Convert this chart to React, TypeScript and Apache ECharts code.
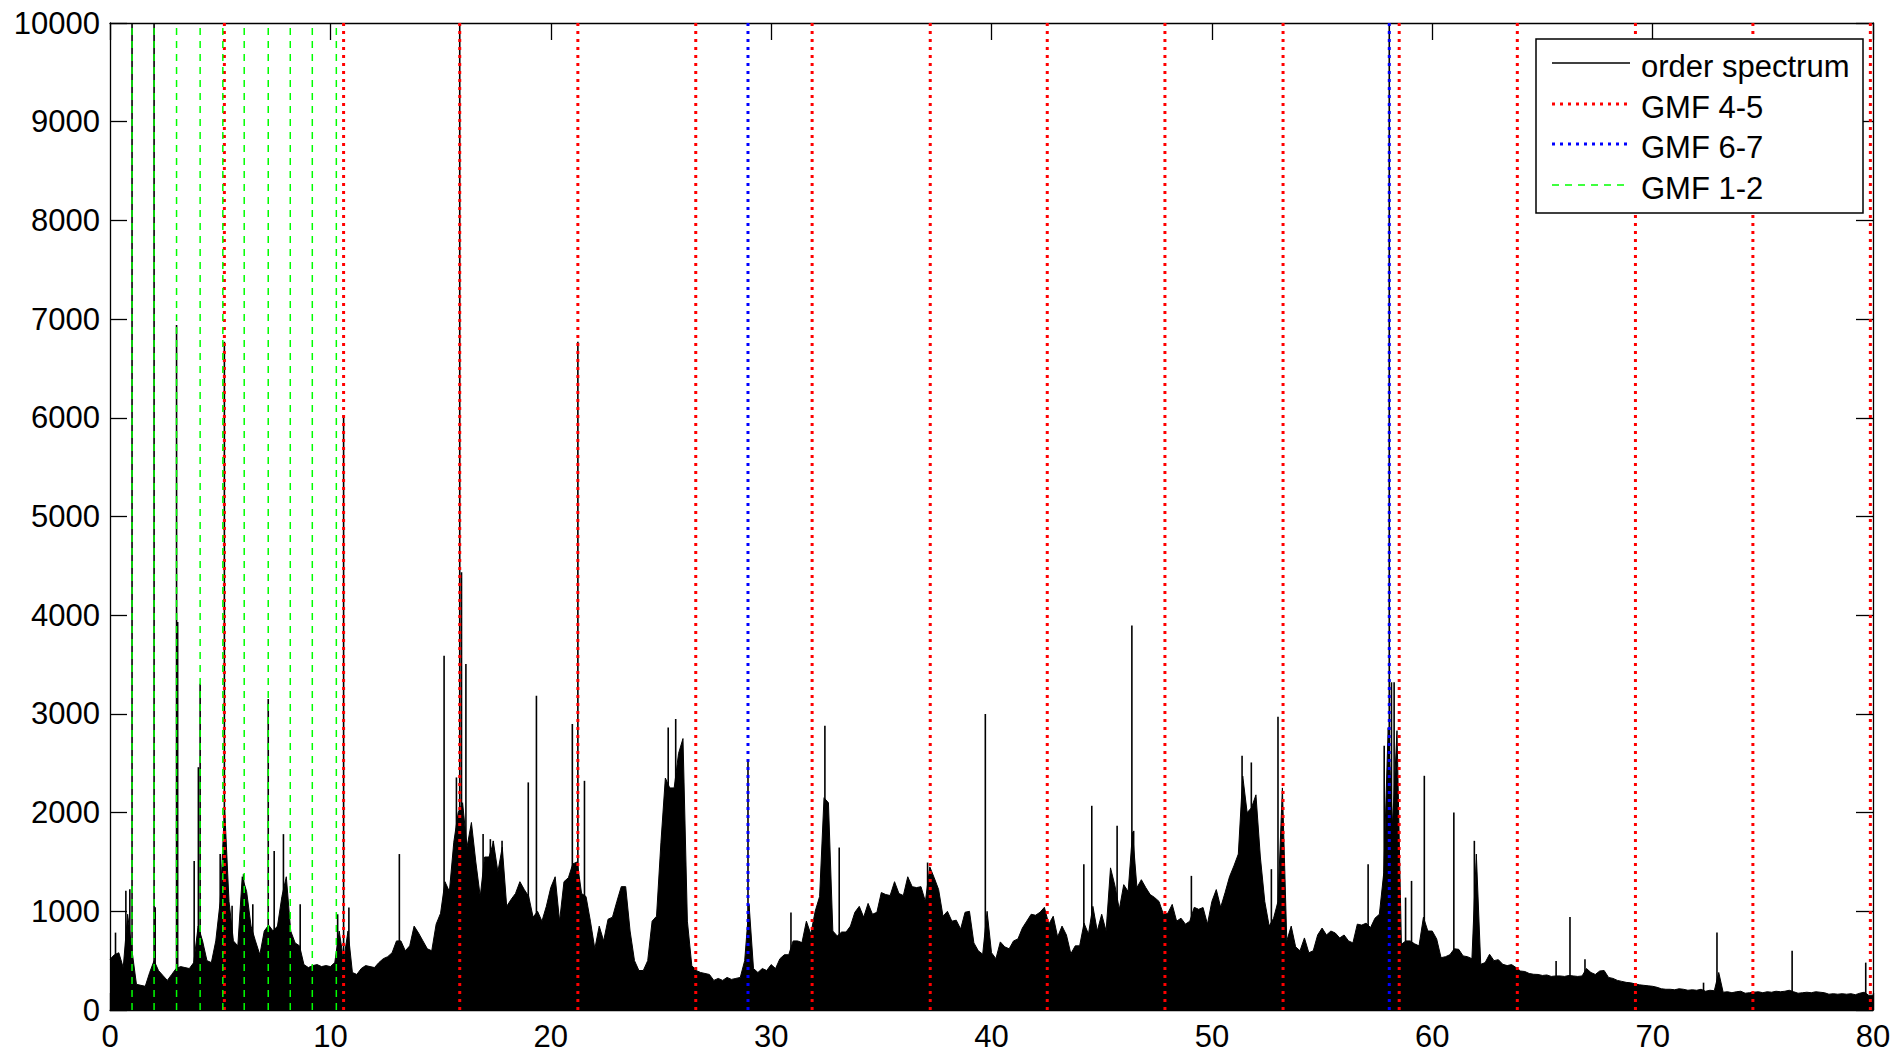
import React, { useEffect, useRef } from "react";
import * as echarts from "echarts";

// ---- data ----
const ORDER_STEP = 0.2; // spectrum envelope sampled every 0.2 order, from 0 to 80
const spectrumBase = [
  514, 560, 580, 430, 970,
  600, 260, 250, 240, 380,
  500, 400, 350, 300, 360,
  420, 440, 430, 420, 480,
  850, 700, 500, 480, 700,
  1100, 2050, 1100, 700, 650,
  1350, 1200, 850, 700, 560,
  800, 860, 800, 850, 1150,
  1350, 800, 680, 650, 460,
  430, 450, 460, 440, 450,
  440, 480, 800, 500, 800,
  380, 360, 420, 450, 440,
  430, 480, 520, 540, 580,
  700, 700, 600, 650, 850,
  780, 700, 620, 600, 870,
  980, 1300, 1200, 1700, 2000,
  2100, 1650, 1900, 1500, 1150,
  1550, 1550, 1700, 1400, 1650,
  1050, 1120, 1180, 1300, 1220,
  1150, 940, 1000, 900, 1050,
  1240, 1350, 900, 1300, 1340,
  1480, 1500, 1180, 1150, 900,
  620, 850, 700, 920, 940,
  1100, 1250, 1250, 800, 500,
  400, 400, 500, 900, 950,
  1700, 2350, 2250, 2250, 2600,
  2750, 900, 450, 400, 380,
  370, 360, 300, 320, 300,
  330, 310, 320, 330, 500,
  1070, 420, 380, 420, 400,
  460, 420, 520, 560, 560,
  700, 700, 683, 900, 770,
  1000, 1150, 2150, 2100, 800,
  750, 790, 790, 850, 990,
  1050, 940, 1080, 970, 990,
  1190, 1170, 1160, 1300, 1180,
  1160, 1350, 1250, 1240, 1250,
  1100, 1450, 1340, 1220, 950,
  1000, 900, 910, 820, 990,
  1000, 680, 600, 565, 1000,
  580, 520, 690, 640, 620,
  700, 720, 830, 900, 970,
  960, 990, 1040, 870, 950,
  740, 850, 760, 570, 650,
  650, 880, 770, 1050, 800,
  970, 800, 1440, 1260, 1020,
  1270, 1200, 1800, 1240, 1320,
  1240, 1170, 1140, 1100, 970,
  980, 1070, 900, 930, 870,
  900, 1040, 1020, 1038, 870,
  1100, 1220, 1040, 1190, 1350,
  1460, 1580, 2370, 2000, 2050,
  2180, 1550, 1100, 850, 930,
  1100, 2250, 700, 850, 640,
  600, 730, 580, 600, 760,
  830, 760, 800, 780, 730,
  760, 700, 680, 870, 860,
  880, 835, 930, 970, 1390,
  2860, 1870, 2830, 666, 700,
  700, 670, 650, 940, 800,
  800, 720, 530, 540, 560,
  620, 615, 548, 540, 520,
  1580, 463, 480, 565, 500,
  510, 463, 450, 460, 430,
  395, 390, 370, 362, 360,
  350, 355, 340, 345, 345,
  340, 350, 345, 340, 345,
  420, 380, 360, 395, 400,
  330, 320, 300, 290, 280,
  275, 265, 255, 250, 245,
  240, 230, 215, 210, 210,
  205, 215, 210, 200, 205,
  200, 210, 190, 200, 195,
  380, 180, 185, 175, 185,
  190, 170, 175, 180, 185,
  175, 185, 180, 190, 185,
  190, 200, 185, 170, 175,
  180, 175, 185, 180, 175,
  160, 165, 160, 165, 160,
  165, 155, 170, 180, 150,
  150,
];

// narrow spectral lines [order, amplitude]; the ones above 10000 are clipped by the axis
const spikePeaks: [number, number][] = [
  [0.25, 784], [0.72, 1207], [0.9, 1224], [1.0, 12000], [2.0, 12000],
  [2.05, 1040], [3.02, 6940], [3.07, 3930], [3.82, 1510], [4.01, 2460],
  [4.09, 3306], [5.0, 1580], [5.19, 6770], [5.54, 1055], [6.06, 1376],
  [6.48, 1072], [7.18, 3150], [7.45, 1612], [7.87, 1782], [8.63, 1072],
  [10.33, 970], [10.6, 6024], [10.84, 1038], [13.13, 1580], [15.16, 3590],
  [15.72, 2356], [15.87, 12000], [15.95, 4435], [16.15, 3506], [16.93, 1782],
  [17.26, 1731], [17.39, 1714], [17.79, 1714], [18.98, 2306], [19.35, 3185],
  [20.98, 2897], [21.23, 6770], [21.53, 2322], [25.33, 2863], [25.67, 2948],
  [28.95, 2525], [30.9, 987], [32.44, 2880], [33.09, 1646], [37.1, 1494],
  [39.72, 3000], [44.19, 1477], [44.55, 2069], [45.7, 1866], [46.37, 3895],
  [46.45, 1815], [49.07, 1359], [51.37, 2576], [51.79, 2508], [52.7, 1427],
  [53.0, 2972], [57.09, 1477], [57.82, 2677], [58.05, 12000], [58.15, 3320],
  [58.27, 3320], [58.79, 1139], [59.06, 1308], [59.64, 2373], [60.98, 2001],
  [61.91, 1714], [65.62, 497], [66.25, 943], [66.93, 514], [72.31, 277],
  [72.92, 784], [76.33, 600], [79.67, 480],
];

const gmf45Orders = [5.19, 10.6, 15.87, 21.23, 26.58, 31.86, 37.22, 42.53, 47.87, 53.23, 58.5, 63.86, 69.22, 74.55, 79.88];
const gmf67Orders = [28.95, 58.05];
const gmf12Orders = [1.0, 2.0, 3.02, 4.09, 5.12, 6.09, 7.18, 8.18, 9.18, 10.27];

const X_MIN = 0, X_MAX = 80, X_STEP = 10;
const Y_MIN = 0, Y_MAX = 10000, Y_STEP = 1000;

const legendLabels = ["order spectrum", "GMF 4-5", "GMF 6-7", "GMF 1-2"];

const FONT = '"Liberation Sans", Arial, Helvetica, sans-serif';
const RED = "#ff0000";
const BLUE = "#0000ff";
const GREEN = "#00ff00";

function vline(x: number, name: string, color: string, width: number, dash: number[], z: number) {
  return {
    name,
    type: "line",
    data: [[x, Y_MIN], [x, Y_MAX]],
    symbol: "none",
    silent: true,
    lineStyle: { color, width, type: dash, cap: "butt" },
    z,
  };
}

export default function App() {
  const ref = useRef<HTMLDivElement>(null);

  useEffect(() => {
    if (!ref.current) return;
    const chart = echarts.init(ref.current, undefined, { renderer: "svg" });

    const axisLine = { show: true, onZero: false, lineStyle: { color: "#000", width: 1.3 } };
    const axisTick = { show: true, inside: true, length: 17, lineStyle: { color: "#000", width: 1.3 } };
    const plainNumber = (v: number) => String(v);

    const legendX = 1536, legendY = 39, legendW = 327, legendH = 174;
    const rowsY = [66, 107, 147, 188];
    const sampleStyles = [
      { stroke: "#000", lineWidth: 1.5, lineDash: null as any },
      { stroke: RED, lineWidth: 3, lineDash: [3, 5] },
      { stroke: BLUE, lineWidth: 3, lineDash: [3, 5] },
      { stroke: GREEN, lineWidth: 1.5, lineDash: [7, 6] },
    ];
    const legendEls: any[] = [
      {
        type: "rect",
        z: 100,
        shape: { x: legendX, y: legendY, width: legendW, height: legendH },
        style: { fill: "#fff", stroke: "#000", lineWidth: 1.5 },
      },
    ];
    legendLabels.forEach((label, i) => {
      const s = sampleStyles[i];
      legendEls.push({
        type: "line",
        z: 101,
        shape: { x1: 1552, y1: rowsY[i] - 3, x2: 1630, y2: rowsY[i] - 3 },
        style: { stroke: s.stroke, lineWidth: s.lineWidth, lineDash: s.lineDash, lineCap: "butt" },
      });
      legendEls.push({
        type: "text",
        z: 101,
        x: 1641,
        y: rowsY[i],
        style: { text: label, fill: "#000", fontSize: 31, fontFamily: FONT, verticalAlign: "middle", align: "left" },
      });
    });

    const series: any[] = [
      {
        name: "order spectrum",
        type: "line",
        data: spectrumBase.map((v, i) => [Math.round(i * ORDER_STEP * 100) / 100, v]),
        symbol: "none",
        silent: true,
        lineStyle: { color: "#000", width: 1 },
        areaStyle: { color: "#000", opacity: 1 },
        z: 2,
      },
      {
        name: "order spectrum lines",
        type: "bar",
        data: spikePeaks.map(([o, v]) => [o, v]),
        barWidth: 1.6,
        silent: true,
        itemStyle: { color: "#000" },
        z: 2,
      },
      ...gmf45Orders.map((x) => vline(x, "GMF 4-5", RED, 3, [3, 5], 3)),
      ...gmf67Orders.map((x) => vline(x, "GMF 6-7", BLUE, 3, [3, 5], 4)),
      ...gmf12Orders.map((x) => vline(x, "GMF 1-2", GREEN, 1.5, [7, 6], 5)),
    ];

    chart.setOption({
      animation: false,
      backgroundColor: "#fff",
      grid: { left: 110, right: 22, top: 23, bottom: 48, outerBoundsMode: "none" },
      xAxis: [
        {
          type: "value",
          min: X_MIN,
          max: X_MAX,
          interval: X_STEP,
          position: "bottom",
          axisLine,
          axisTick,
          axisLabel: { color: "#000", fontSize: 31, fontFamily: FONT, margin: 11, formatter: plainNumber },
          splitLine: { show: false },
        },
        {
          type: "value",
          min: X_MIN,
          max: X_MAX,
          interval: X_STEP,
          position: "top",
          axisLine,
          axisTick,
          axisLabel: { show: false },
          splitLine: { show: false },
        },
      ],
      yAxis: [
        {
          type: "value",
          min: Y_MIN,
          max: Y_MAX,
          interval: Y_STEP,
          position: "left",
          axisLine,
          axisTick,
          axisLabel: { color: "#000", fontSize: 31, fontFamily: FONT, margin: 10, formatter: plainNumber },
          splitLine: { show: false },
        },
        {
          type: "value",
          min: Y_MIN,
          max: Y_MAX,
          interval: Y_STEP,
          position: "right",
          axisLine,
          axisTick,
          axisLabel: { show: false },
          splitLine: { show: false },
        },
      ],
      series,
      graphic: { elements: legendEls },
    });

    return () => chart.dispose();
  }, []);

  return (
    <div
      ref={ref}
      style={{ position: "fixed", left: 0, top: 0, width: 1895, height: 1058, background: "#fff" }}
    />
  );
}
